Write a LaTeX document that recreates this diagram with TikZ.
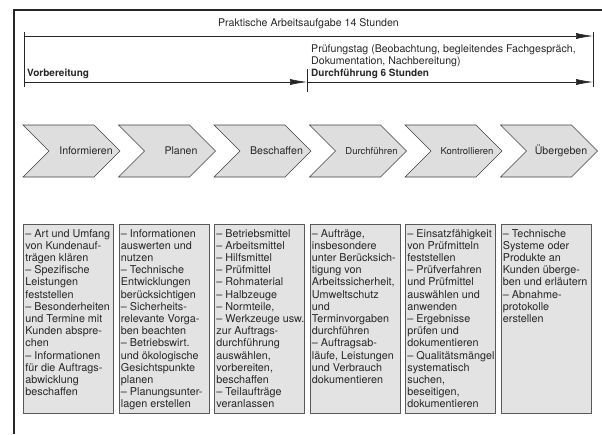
\documentclass[tikz,border=0pt]{standalone}
\usepackage{fontspec}
\setmainfont{TeX Gyre Heros}
\usetikzlibrary{arrows.meta}

\tikzset{
	dimline/.style={draw=black!85, line width=0.6pt, -{Latex[length=17pt,width=6pt]}},
	bar/.style={draw=black!85, line width=0.6pt},
	txt/.style={inner sep=0pt, anchor=base west, text=black!85},
	phase/.style={draw=black!75, line width=0.6pt, fill=gray!26},
	plabel/.style={inner sep=0pt, text=black!85},
	infobox/.style={draw=black!65, line width=1.2pt, fill=gray!22, minimum width=90pt, minimum height=189pt, anchor=north west, inner sep=0pt},
	infotext/.style={anchor=north west, align=left, inner xsep=2.2pt, inner ysep=5pt, text=black!85, font=\fontsize{10.8}{12.2}\selectfont}
}

\begin{document}
\begin{tikzpicture}[x=1pt, y=-1pt, font=\fontsize{10.6}{12.2}\selectfont]

	\useasboundingbox (0,0) rectangle (602,434);

	% frame
	\draw[black!85, line width=1.2pt] (14,434) -- (14,10) -- (602,10);

	% time spans
	\coordinate (a0) at (24,36);
	\coordinate (a1) at (593,36);
	\coordinate (b0) at (24,82);
	\coordinate (b1) at (307,82);
	\coordinate (b2) at (593,82);
	\coordinate (l0) at (24,32);
	\coordinate (l1) at (24,87);
	\coordinate (r0) at (593,32);
	\coordinate (r1) at (593,87);
	\coordinate (m0) at (307,69);
	\coordinate (m1) at (307,92);

	\draw[bar] (l0) -- (l1);
	\draw[bar] (r0) -- (r1);
	\draw[bar] (m0) -- (m1);

	\path
	(a0) edge[dimline] (a1)
	(b0) edge[dimline] (b1)
	(b1) edge[dimline] (b2);

	\node (total) [text=black!85] at (308.5,24) {Praktische Arbeitsaufgabe 14 Stunden};
	\node (vorb) [txt, font=\bfseries] at (27,76) {Vorbereitung};
	\node (pruef1) [txt] at (311,52) {Prüfungstag (Beobachtung, begleitendes Fachgespräch,};
	\node (pruef2) [txt] at (311,64) {Dokumentation, Nachbereitung)};
	\node (durch) [txt, font=\bfseries] at (311,76) {Durchführung 6 Stunden};

	% phases
	\draw[phase] (23,125) -- ++(71,0) -- ++(26,26) -- ++(-26,26) -- ++(-71,0) -- ++(26,-26) -- cycle;
	\draw[phase] (118.5,125) -- ++(71,0) -- ++(26,26) -- ++(-26,26) -- ++(-71,0) -- ++(26,-26) -- cycle;
	\draw[phase] (214,125) -- ++(71,0) -- ++(26,26) -- ++(-26,26) -- ++(-71,0) -- ++(26,-26) -- cycle;
	\draw[phase] (309.5,125) -- ++(71,0) -- ++(26,26) -- ++(-26,26) -- ++(-71,0) -- ++(26,-26) -- cycle;
	\draw[phase] (405,125) -- ++(71,0) -- ++(26,26) -- ++(-26,26) -- ++(-71,0) -- ++(26,-26) -- cycle;
	\draw[phase] (500.5,125) -- ++(71,0) -- ++(26,26) -- ++(-26,26) -- ++(-71,0) -- ++(26,-26) -- cycle;

	\node (informieren) [plabel] at (86,151) {Informieren};
	\node (planen) [plabel] at (181,151) {Planen};
	\node (beschaffen) [plabel] at (276.5,151) {Beschaffen};
	\node (durchfuehren) [plabel, font=\fontsize{9.5}{11}\selectfont] at (371.5,151) {Durchführen};
	\node (kontrollieren) [plabel, font=\fontsize{9.5}{11}\selectfont] at (467,151) {Kontrollieren};
	\node (uebergeben) [plabel] at (561,151) {Übergeben};

	% tasks
	\node (k1) [infobox] at (23,224) {};
	\node (k2) [infobox] at (118.5,224) {};
	\node (k3) [infobox] at (214,224) {};
	\node (k4) [infobox] at (309.5,224) {};
	\node (k5) [infobox] at (405,224) {};
	\node (k6) [infobox] at (500.5,224) {};

	\node (t1) [infotext] at (k1.north west) {– Art und Umfang\\von Kundenauf-\\trägen klären\\– Spezifische\\Leistungen\\feststellen\\– Besonderheiten\\und Termine mit\\Kunden abspre-\\chen\\– Informationen\\für die Auftrags-\\abwicklung\\beschaffen};
	\node (t2) [infotext] at (k2.north west) {– Informationen\\auswerten und\\nutzen\\– Technische\\Entwicklungen\\berücksichtigen\\– Sicherheits-\\relevante Vorga-\\ben beachten\\– Betriebswirt.\\und ökologische\\Gesichtspunkte\\planen\\– Planungsunter-\\lagen erstellen};
	\node (t3) [infotext] at (k3.north west) {– Betriebsmittel\\– Arbeitsmittel\\– Hilfsmittel\\– Prüfmittel\\– Rohmaterial\\– Halbzeuge\\– Normteile,\\– Werkzeuge usw.\\zur Auftrags-\\durchführung\\auswählen,\\vorbereiten,\\beschaffen\\– Teilaufträge\\veranlassen};
	\node (t4) [infotext] at (k4.north west) {– Aufträge,\\insbesondere\\unter Berücksich-\\tigung von\\Arbeitssicherheit,\\Umweltschutz\\und\\Terminvorgaben\\durchführen\\– Auftragsab-\\läufe, Leistungen\\und Verbrauch\\dokumentieren};
	\node (t5) [infotext] at (k5.north west) {– Einsatzfähigkeit\\von Prüfmitteln\\feststellen\\– Prüfverfahren\\und Prüfmittel\\auswählen und\\anwenden\\– Ergebnisse\\prüfen und\\dokumentieren\\– Qualitätsmängel\\systematisch\\suchen,\\beseitigen,\\dokumentieren};
	\node (t6) [infotext] at (k6.north west) {– Technische\\Systeme oder\\Produkte an\\Kunden überge-\\ben und erläutern\\– Abnahme-\\protokolle\\erstellen};

\end{tikzpicture}
\end{document}
